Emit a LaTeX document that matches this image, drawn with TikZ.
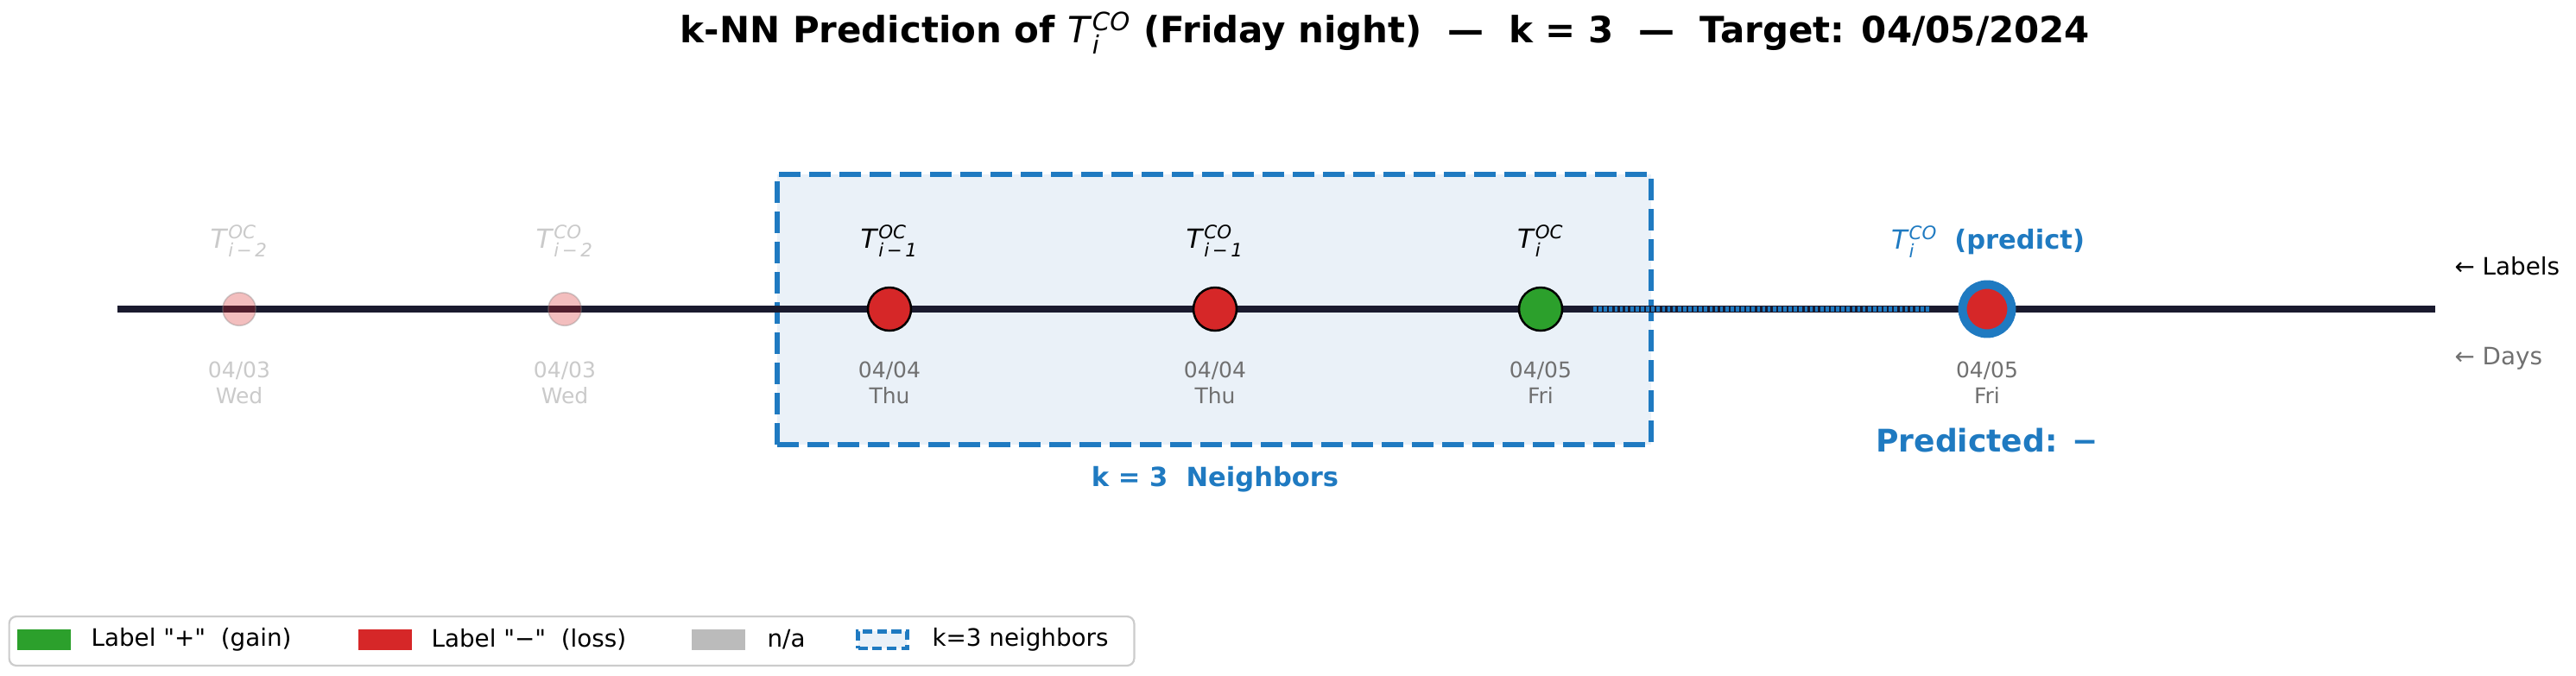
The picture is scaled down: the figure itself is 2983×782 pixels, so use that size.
\documentclass[tikz,border=0pt]{standalone}
\usepackage{fontspec}
\setmainfont{DejaVu Sans}
\newfontfamily\plainfont{DejaVu Sans}
\definecolor{tlc}{HTML}{1A1A2E}
\definecolor{cred}{HTML}{D62728}
\definecolor{cgreen}{HTML}{2CA02C}
\definecolor{cblue}{HTML}{1F7AC1}
\definecolor{boxfill}{HTML}{EAF1F8}
\definecolor{dategray}{HTML}{707070}
\definecolor{fadegray}{HTML}{CACACA}
\definecolor{nagray}{HTML}{BBBBBB}
\definecolor{legedge}{HTML}{CCCCCC}
\newcommand\Tlab[3]{\textit{T}$_{\hbox{\fontsize{#3}{#3}\selectfont\itshape #1}}^{\hbox{\fontsize{#3}{#3}\selectfont\itshape #2}}$}
\begin{document}
\begin{tikzpicture}[x=0.36pt,y=-0.36pt,
  font=\fontsize{10}{12}\selectfont,
  ptbase/.style={circle,inner sep=0pt,minimum size=18pt,draw=black,line width=0.9pt},
  fadept/.style={circle,inner sep=0pt,minimum size=13.8pt,draw=gray,draw opacity=0.35,fill=cred,fill opacity=0.3,line width=0.6pt},
  toplab/.style={font=\fontsize{11}{13}\selectfont,inner sep=0pt},
  datelab/.style={font=\fontsize{9}{10.8}\selectfont,text=dategray,align=center,inner sep=0pt},
  fadelab/.style={text=fadegray},
  sidelab/.style={font=\fontsize{10}{12}\selectfont,anchor=west,inner sep=0pt},
  nbox/.style={draw=cblue,fill=boxfill,line width=2.2pt,dash pattern=on 9pt off 3.6pt,inner sep=0pt},
  swatch/.style={minimum width=22pt,minimum height=8.6pt,inner sep=0pt},
  legtext/.style={anchor=west,inner sep=0pt,font=\plainfont\fontsize{10}{12}\selectfont}]
\useasboundingbox (0,0) rectangle (2983,782);

% title
\node (title) at (1604,38) {\fontsize{15.1}{18}\selectfont\bfseries k-NN Prediction of {\mdseries\Tlab{i}{CO}{10.5}} (Friday night)\ \ —\ \ k = 3\ \ —\ \ Target: 04/05/2024};

% neighbor box
\node[nbox,minimum width=364.3pt,minimum height=112.7pt] (nbox) at (1406,358.5) {};
\node[font=\fontsize{11}{13}\selectfont\bfseries,text=cblue] (nlab) at (1407,555) {k = 3\ \ Neighbors};

% timeline
\coordinate (tlL) at (136,358);
\coordinate (tlR) at (2820,358);
\draw[tlc,line width=2.9pt] (tlL) -- (tlR);

% points
\node[fadept] (p1) at (277,358) {};
\node[fadept] (p2) at (654,358) {};
\node[ptbase,fill=cred] (p3) at (1030,358) {};
\node[ptbase,fill=cred] (p4) at (1407,358) {};
\node[ptbase,fill=cgreen] (p5) at (1784,358) {};
\node[circle,inner sep=0pt,minimum size=20.5pt,draw=cblue,line width=3.6pt,fill=cred] (p6) at (2301,358) {};

% dotted link to prediction
\draw[cblue,line width=2pt,dash pattern=on 1.3pt off 0.9pt,shorten <=22pt,shorten >=24pt] (p5.center) -- (p6.center);

% labels above
\node[toplab,fadelab] (l1) at (277,279) {\Tlab{i\,−\,2}{OC}{7.7}};
\node[toplab,fadelab] (l2) at (654,279) {\Tlab{i\,−\,2}{CO}{7.7}};
\node[toplab] (l3) at (1030,279) {\Tlab{i\,−\,1}{OC}{7.7}};
\node[toplab] (l4) at (1407,279) {\Tlab{i\,−\,1}{CO}{7.7}};
\node[toplab] (l5) at (1784,279) {\Tlab{i}{OC}{7.7}};
\node[toplab,text=cblue] (l6) at (2302,280) {\Tlab{i}{CO}{7.7}\ \ \textbf{(predict)}};

% dates below
\node[datelab,fadelab] (d1) at (277,443) {04/03\\Wed};
\node[datelab,fadelab] (d2) at (654,443) {04/03\\Wed};
\node[datelab] (d3) at (1030,443) {04/04\\Thu};
\node[datelab] (d4) at (1407,443) {04/04\\Thu};
\node[datelab] (d5) at (1784,443) {04/05\\Fri};
\node[datelab] (d6) at (2301,443) {04/05\\Fri};

% prediction result
\node[font=\fontsize{13}{15}\selectfont\bfseries,text=cblue] (pred) at (2301,510) {Predicted: −};

% side labels
\node[sidelab] (sl1) at (2842,308) {← Labels};
\node[sidelab,text=dategray] (sl2) at (2842,415) {← Days};

% legend
\node[draw=legedge,line width=0.8pt,rounded corners=3pt,fill=white,minimum width=469pt,minimum height=20.5pt,inner sep=0pt] (leg) at (662,742.5) {};
\node[swatch,fill=cgreen] (s1) at (51,741) {};
\node[legtext] (t1) at (105,741) {Label "+"\ \ (gain)};
\node[swatch,fill=cred] (s2) at (446,741) {};
\node[legtext] (t2) at (499,741) {Label "−"\ \ (loss)};
\node[swatch,fill=nagray] (s3) at (832,741) {};
\node[legtext] (t3) at (888,741) {n/a};
\node[swatch,draw=cblue,fill=boxfill,line width=1.6pt,dash pattern=on 4pt off 2pt,minimum width=20.5pt,minimum height=7pt] (s4) at (1022,741) {};
\node[legtext] (t4) at (1079,741) {k=3 neighbors};
\end{tikzpicture}
\end{document}
